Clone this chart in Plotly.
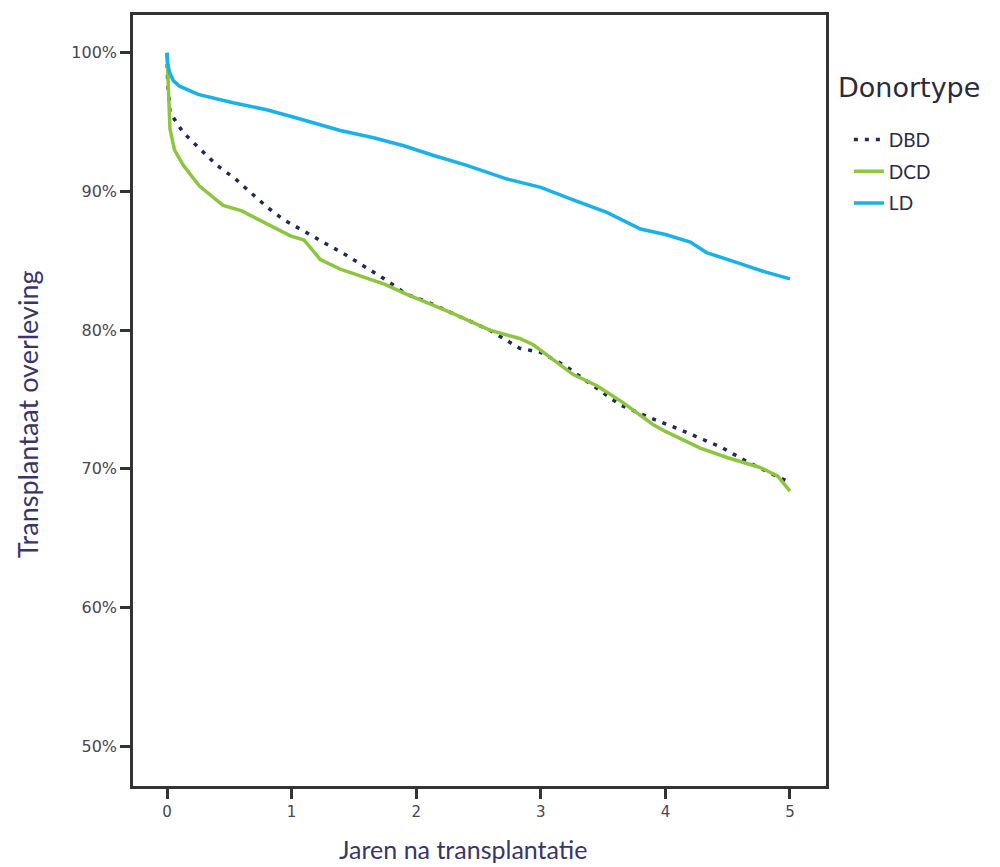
import plotly.graph_objects as go

# Years after transplant and graft survival (%) per donor type
dbd_x = [0, 0.005, 0.024, 0.13, 0.25, 0.40, 0.55, 0.67, 0.8, 0.93, 1.2, 1.44, 1.75, 1.92, 2.1, 2.27, 2.59, 2.83, 3.0, 3.2, 3.45, 3.64, 3.9, 4.1, 4.28, 4.44, 4.66, 4.87, 5.0]
dbd_y = [100, 98.0, 95.7, 94.25, 93.2, 91.9, 90.9, 89.9, 88.9, 88.0, 86.6, 85.4, 83.67, 82.6, 82.0, 81.3, 80.0, 78.7, 78.4, 77.4, 75.8, 74.6, 73.6, 72.9, 72.2, 71.6, 70.5, 69.6, 69.0]

dcd_x = [0, 0.005, 0.024, 0.06, 0.13, 0.26, 0.45, 0.6, 0.77, 0.99, 1.1, 1.23, 1.39, 1.75, 1.92, 2.27, 2.59, 2.83, 2.94, 3.15, 3.26, 3.45, 3.64, 3.9, 4.0, 4.28, 4.5, 4.76, 4.9, 5.0]
dcd_y = [100, 98.6, 94.5, 93.0, 91.9, 90.4, 89.0, 88.6, 87.8, 86.8, 86.5, 85.1, 84.4, 83.3, 82.6, 81.3, 80.0, 79.4, 78.95, 77.5, 76.8, 76.0, 74.9, 73.2, 72.7, 71.5, 70.8, 70.1, 69.5, 68.4]

ld_x = [0, 0.005, 0.02, 0.05, 0.10, 0.25, 0.53, 0.8, 1.04, 1.2, 1.39, 1.65, 1.9, 2.14, 2.4, 2.73, 3.0, 3.26, 3.53, 3.80, 4.0, 4.2, 4.33, 4.6, 4.8, 5.0]
ld_y = [100, 99.3, 98.6, 98.0, 97.6, 97.0, 96.4, 95.9, 95.3, 94.9, 94.4, 93.9, 93.3, 92.6, 91.9, 90.9, 90.3, 89.4, 88.5, 87.3, 86.9, 86.35, 85.6, 84.8, 84.2, 83.7]

x_ticks = [0, 1, 2, 3, 4, 5]
y_ticks = [50, 60, 70, 80, 90, 100]
y_tick_labels = ["50%", "60%", "70%", "80%", "90%", "100%"]

fig = go.Figure()
fig.add_trace(go.Scatter(x=dbd_x, y=dbd_y, mode="lines", name="DBD", legendgroup="a",
                         line=dict(color="#1f2a5c", width=3.5, dash="4px,7px")))
fig.add_trace(go.Scatter(x=dcd_x, y=dcd_y, mode="lines", name="DCD", legendgroup="b",
                         line=dict(color="#8cc63f", width=3.5)))
fig.add_trace(go.Scatter(x=ld_x, y=ld_y, mode="lines", name="LD", legendgroup="c",
                         line=dict(color="#1ab0e8", width=3.5)))

axis_title_color = "#3a3566"
tick_color = "#4a4550"

fig.update_layout(
    width=992, height=859,
    margin=dict(l=125, r=174, t=4, b=81),
    paper_bgcolor="white", plot_bgcolor="white",
    font=dict(family="Lato, Open Sans, sans-serif"),
    legend=dict(
        x=1.033, y=0.863, xanchor="left", yanchor="top",
        font=dict(size=19, color="#2a2a4a"),
        tracegroupgap=4, itemwidth=30,
        bgcolor="rgba(0,0,0,0)",
    ),
    annotations=[
        dict(text="Donortype", x=1.0144, y=0.906, xref="paper", yref="paper",
             xanchor="left", yanchor="middle", showarrow=False,
             font=dict(family="DejaVu Sans, sans-serif", size=27, color="#2a2a3a")),
        dict(text="Jaren na transplantatie", x=0.476, y=-0.0814, xref="paper", yref="paper",
             xanchor="center", yanchor="middle", showarrow=False,
             font=dict(family="Lato, sans-serif", size=25, color=axis_title_color)),
        dict(text="Transplantaat overleving", x=-0.153, y=0.482, xref="paper", yref="paper",
             xanchor="center", yanchor="middle", showarrow=False, textangle=-90,
             font=dict(family="Lato, sans-serif", size=27, color=axis_title_color)),
    ],
    xaxis=dict(
        range=[-0.273, 5.289], tickvals=x_ticks, ticktext=[str(v) for v in x_ticks],
        showgrid=False, zeroline=False,
        showline=True, linecolor="#333333", linewidth=2.5, mirror=True,
        ticks="outside", ticklen=10, tickwidth=2.5, tickcolor="#333333",
        tickfont=dict(family="DejaVu Sans, sans-serif", size=15, color=tick_color),
    ),
    yaxis=dict(
        range=[47.13, 102.73], tickvals=y_ticks, ticktext=y_tick_labels,
        showgrid=False, zeroline=False,
        showline=True, linecolor="#333333", linewidth=2.5, mirror=True,
        ticks="outside", ticklen=10, tickwidth=2.5, tickcolor="#333333",
        tickfont=dict(family="DejaVu Sans, sans-serif", size=16, color=tick_color),
    ),
)

fig.write_html("out.html")
